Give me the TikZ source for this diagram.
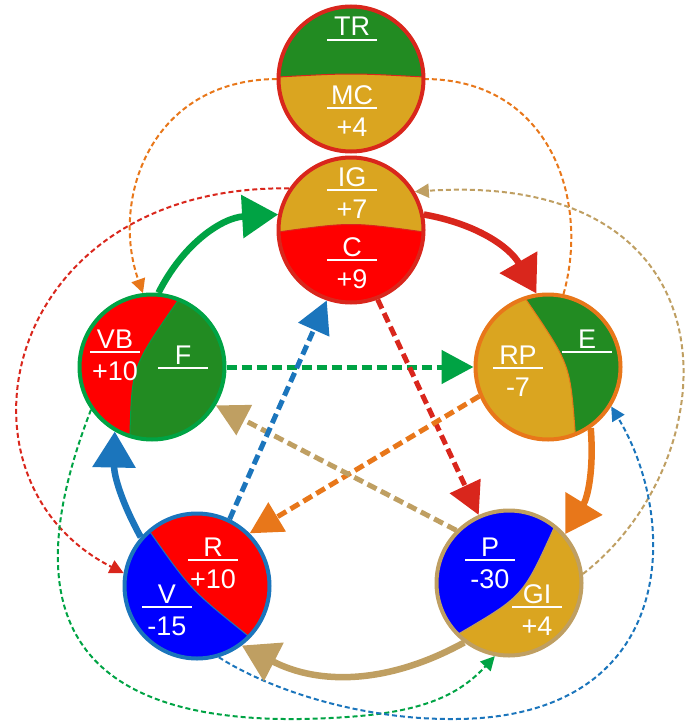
\documentclass[tikz,border=0pt]{standalone}
\usepackage{fontspec}
\setmainfont{Liberation Sans}
\usetikzlibrary{arrows.meta,backgrounds}
\definecolor{verde}{RGB}{34,139,34}
\definecolor{dorado}{RGB}{218,165,32}
\definecolor{rojo}{RGB}{255,0,0}
\definecolor{azul}{RGB}{0,0,255}
\definecolor{rojoborde}{RGB}{217,38,28}
\definecolor{verdeborde}{RGB}{0,163,68}
\definecolor{naranja}{RGB}{232,119,26}
\definecolor{azulborde}{RGB}{27,117,188}
\definecolor{canela}{RGB}{191,159,98}
\tikzset{
  circulo/.style={circle, minimum size=145pt, inner sep=0pt, line width=4pt},
  texto/.style={text=white, font=\fontsize{27}{31}\selectfont, inner sep=0pt},
  barra/.style={white, line width=2.5pt},
  division/.style={line width=1pt},
  flecha/.style={line width=6.5pt, -{Triangle[length=36pt,width=42pt]}},
  discontinua/.style={line width=5pt, dash pattern=on 10pt off 5pt, -{Triangle[length=32pt,width=33pt]}},
  punteada/.style={line width=2pt, dash pattern=on 5pt off 3pt, -{Triangle[length=14pt,width=14pt]}},
}
\begin{document}
\begin{tikzpicture}[x=1pt,y=1pt]
  \useasboundingbox (0,0) rectangle (694,-725);
  % circulos
  \node[circulo, draw=rojoborde] (trmc) at (351,-79) {};
  \node[circulo, draw=rojoborde] (igc) at (351,-230) {};
  \node[circulo, draw=verdeborde] (vbf) at (152,-367) {};
  \node[circulo, draw=naranja] (rpe) at (548,-367) {};
  \node[circulo, draw=azulborde] (rv) at (197,-586) {};
  \node[circulo, draw=canela] (pgi) at (509,-583) {};
  \begin{scope}[on background layer]
    \draw[punteada, naranja] (rpe.78) .. controls (590,-200) and (550,-80) .. (trmc.east)
      -- (trmc.west) .. controls (150,-80) and (110,-200) .. (vbf.97);
    \begin{scope}
      \clip (trmc.center) circle (72.5);
      \fill[verde] (trmc.center) circle (72.5);
      \filldraw[fill=dorado, draw=rojoborde, division] (270,-77) -- (278,-77) .. controls (351,-73) .. (424,-77)
        -- (432,-77) -- (432,-160) -- (270,-160) -- cycle;
    \end{scope}
    \begin{scope}
      \clip (igc.center) circle (72.5);
      \fill[dorado] (igc.center) circle (72.5);
      \filldraw[fill=rojo, draw=rojoborde, division] (270,-232) -- (278,-232) .. controls (351,-222) .. (424,-232)
        -- (432,-232) -- (432,-310) -- (270,-310) -- cycle;
    \end{scope}
    \begin{scope}
      \clip (vbf.center) circle (72.5);
      \fill[verde] (vbf.center) circle (72.5);
      \filldraw[fill=rojo, draw=verdeborde, division] (199,-270) -- (177,-302) .. controls (132,-367) .. (130,-433)
        -- (129,-460) -- (60,-460) -- (60,-270) -- cycle;
    \end{scope}
    \begin{scope}
      \clip (rpe.center) circle (72.5);
      \fill[dorado] (rpe.center) circle (72.5);
      \filldraw[fill=verde, draw=naranja, division] (511,-278) -- (525,-298) .. controls (570,-364) .. (575,-430)
        -- (577,-460) -- (640,-460) -- (640,-278) -- cycle;
    \end{scope}
    \begin{scope}
      \clip (rv.center) circle (72.5);
      \fill[azul] (rv.center) circle (72.5);
      \filldraw[fill=rojo, draw=azulborde, division] (130,-503) -- (150,-532) .. controls (191,-590) .. (247,-635)
        -- (275,-657) -- (300,-657) -- (300,-490) -- (130,-490) -- cycle;
    \end{scope}
    \begin{scope}
      \clip (pgi.center) circle (72.5);
      \fill[dorado] (pgi.center) circle (72.5);
      \filldraw[fill=azul, draw=canela, division] (430,-651) -- (460,-633) .. controls (523,-596) .. (553,-530)
        -- (565,-503) -- (565,-490) -- (420,-490) -- (420,-651) -- cycle;
    \end{scope}
  \end{scope}
  % etiquetas
  \foreach \id/\x/\y/\num in {tr/352/-40/TR, mc/352/-108/MC, ig/352/-190/IG, c/352/-260/C,
      vb/115/-352/VB, f/183/-368/F, rp/518/-368/RP, e/587/-352/E,
      r/213/-560/R, v/167/-607/V, p/490/-560/P, gi/537/-607/GI}{
    \coordinate (b-\id) at (\x,\y);
    \node[texto, anchor=base] (n-\id) at ([yshift=4pt]b-\id) {\num};
    \draw[barra] ([xshift=-25pt]b-\id) -- ([xshift=25pt]b-\id);
  }
  \foreach \id/\den in {mc/+4, ig/+7, c/+9, vb/+10, rp/-7, r/+10, v/-15, p/-30, gi/+4}
    \node[texto, anchor=base] (d-\id) at ([yshift=-28pt]b-\id) {\den};
  % flechas punteadas
  \draw[punteada, rojoborde] (igc.146) .. controls (0,-185) and (-60,-480) .. (rv.170);
  \draw[punteada, canela] (pgi.7) .. controls (730,-460) and (745,-170) .. (igc.31);
  \draw[punteada, verdeborde] (vbf.215) .. controls (25,-580) and (40,-722) .. (300,-719)
    .. controls (400,-717) and (450,-705) .. (pgi.259);
  \draw[punteada, azulborde] (rv.-73) .. controls (270,-690) and (360,-719) .. (450,-719)
    .. controls (680,-721) and (680,-520) .. (rpe.-32);
  % flechas discontinuas
  \draw[discontinua, verdeborde] (vbf.east) -- (rpe.west);
  \draw[discontinua, rojoborde] (igc.-69) -- (pgi.114);
  \draw[discontinua, naranja] (rpe.203) -- (rv.45);
  \draw[discontinua, canela] (pgi.135) -- (vbf.-31);
  \draw[discontinua, azulborde] (rv.64) -- (igc.251);
  % flechas del ciclo
  \draw[flecha, verdeborde] (vbf.85) to[bend left=30] (igc.168);
  \draw[flecha, rojoborde] (igc.12) to[bend left=25] (rpe.99);
  \draw[flecha, naranja] (rpe.-55) to[bend left=18] (pgi.41);
  \draw[flecha, canela] (pgi.233) to[bend left=28] (rv.-53);
  \draw[flecha, azulborde] (rv.139) to[bend left=15] (vbf.240);
\end{tikzpicture}
\end{document}
